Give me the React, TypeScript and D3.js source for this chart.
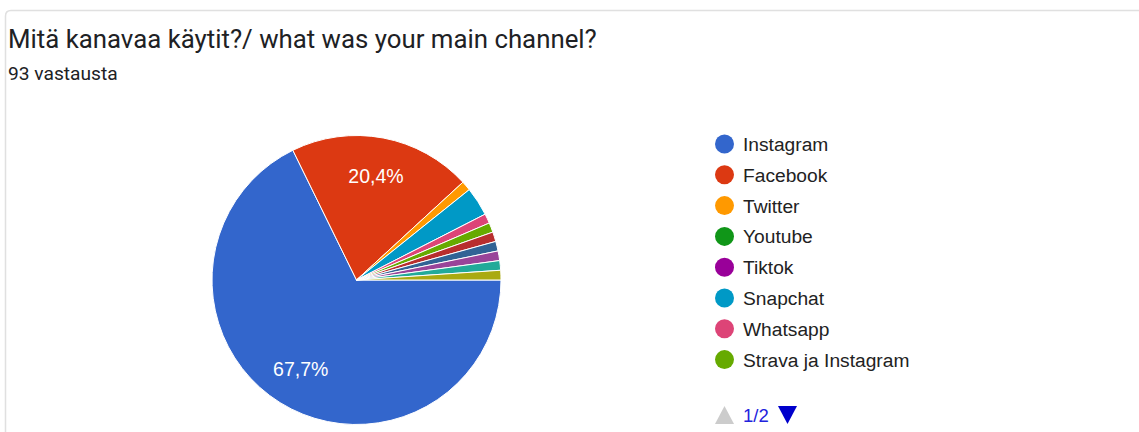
import React from "react";
import * as d3 from "d3";

const categories = [
  "Instagram", "Facebook", "Twitter", "Youtube", "Tiktok", "Snapchat",
  "Whatsapp", "Strava ja Instagram", "Muu 1", "Muu 2", "Muu 3", "Muu 4", "Muu 5",
];
const counts = [63, 19, 1, 0, 0, 3, 1, 1, 1, 1, 1, 1, 1];
const colors = [
  "#3366cc", "#dc3912", "#ff9900", "#109618", "#990099", "#0099c6",
  "#dd4477", "#66aa00", "#b82e2e", "#316395", "#994499", "#22aa99", "#aaaa11",
];
const legendVisible = 8;
const title = "Mitä kanavaa käytit?/ what was your main channel?";
const subtitle = "93 vastausta";

export default function App() {
  const W = 1139, H = 432;
  const cx = 356.5, cy = 280, r = 144.5;
  const total = d3.sum(counts);
  const data = categories.map((c, i) => ({ c, v: counts[i], color: colors[i] }));
  const pie = d3.pie<any>().value((d) => d.v).sort(null)
    .startAngle(Math.PI / 2).endAngle(Math.PI / 2 + 2 * Math.PI);
  const arcs = pie(data);
  const arc = d3.arc<any>().innerRadius(0).outerRadius(r);
  const labelArc = d3.arc<any>().innerRadius(r * 0.73).outerRadius(r * 0.73);
  const fmt = (v: number) => ((v / total) * 100).toFixed(1).replace(".", ",") + "%";

  return (
    <svg width={W} height={H} style={{ position: "absolute", left: 0, top: 0 }}>
      <rect x={0} y={0} width={W} height={H} fill="#fff" />
      <path d={`M5.5,${H} L5.5,16 Q5.5,10.5 11,10.5 L${W},10.5`} fill="none" stroke="#e0e0e0" strokeWidth={1.5} />
      <text x={8} y={47.5} fontFamily="Roboto" fontSize={25.8} fill="#202124">{title}</text>
      <text x={8} y={80} fontFamily="Roboto" fontSize={19.2} fill="#202124">{subtitle}</text>
      <g>
        {arcs.map((a, i) => a.data.v > 0 && (
          <path key={i} d={arc(a) as string} transform={`translate(${cx},${cy})`}
            fill={a.data.color} stroke="#fff" strokeWidth={1} />
        ))}
        {arcs.map((a, i) => {
          if (a.data.v / total < 0.05) return null;
          const [lx, ly] = labelArc.centroid(a);
          return (
            <text key={"l" + i} x={cx + lx} y={cy + ly} dy="0.35em" textAnchor="middle"
              fontFamily="Liberation Sans, Arial" fontSize={19.5} fill="#fff">{fmt(a.data.v)}</text>
          );
        })}
      </g>
      <g>
        {data.slice(0, legendVisible).map((d, i) => (
          <g key={d.c} transform={`translate(0,${144 + i * 30.8})`}>
            <circle cx={724.5} cy={0} r={9.5} fill={d.color} />
            <text x={743} y={0} dy="0.36em" fontFamily="Liberation Sans, Arial" fontSize={19.2} fill="#222">{d.c}</text>
          </g>
        ))}
      </g>
      <g>
        <path d="M715,424 L734,424 L724.5,406 Z" fill="#cccccc" />
        <text x={743} y={415} dy="0.36em" fontFamily="Liberation Sans, Arial" fontSize={18.5} fill="#2222dd">1/2</text>
        <path d="M778,406 L797,406 L787.5,424 Z" fill="#0000cc" />
      </g>
    </svg>
  );
}
